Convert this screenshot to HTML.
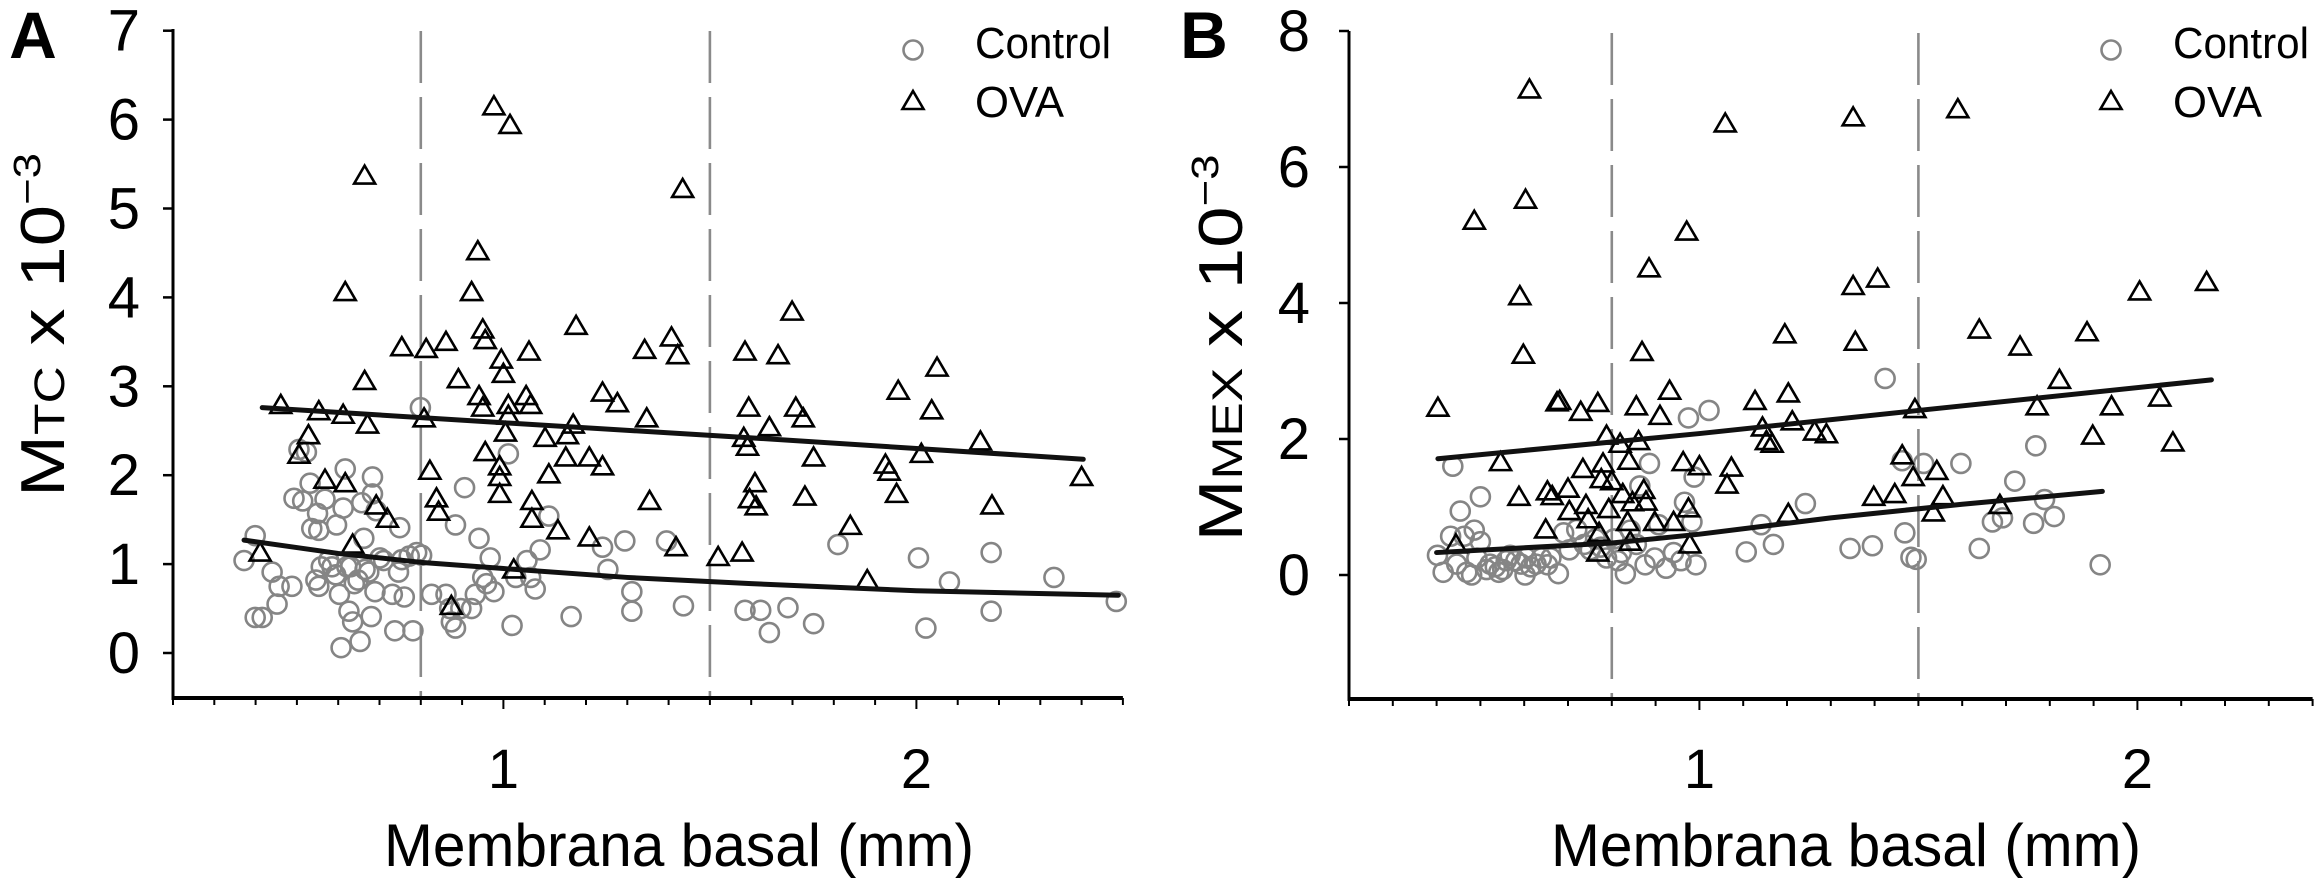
<!DOCTYPE html>
<html><head><meta charset="utf-8"><style>
html,body{margin:0;padding:0;background:#fff;}
svg{display:block;font-family:"Liberation Sans",Arial,sans-serif;}
</style></head><body>
<svg id="chart" width="2317" height="878" viewBox="0 0 2317 878" xmlns="http://www.w3.org/2000/svg">
<g id="pa"></g>
<g id="pb"></g>
</svg>
<script>
// ---------- Panel A data ----------
const aCtrlX=[0.372,0.399,0.399,0.416,0.44,0.457,0.452,0.488,0.493,0.505,0.514,0.523,0.532,0.536,0.546,0.553,0.559,0.55,0.553,0.568,0.577,0.585,0.594,0.596,0.603,0.607,0.612,0.617,0.621,0.626,0.63,0.635,0.639,0.648,0.653,0.657,0.662,0.665,0.674,0.68,0.683,0.683,0.689,0.692,0.701,0.71,0.731,0.737,0.746,0.749,0.754,0.76,0.772,0.781,0.79,0.802,0.799,0.826,0.861,0.87,0.874,0.884,0.884,0.897,0.906,0.923,0.932,0.941,0.95,0.959,0.968,0.977,1.012,1.021,1.03,1.057,1.066,1.077,1.089,1.11,1.164,1.24,1.253,1.294,1.311,1.311,1.395,1.436,1.585,1.623,1.644,1.689,1.751,1.81,2.005,2.023,2.08,2.181,2.181,2.333,2.484];
const aCtrlY=[1.04,1.32,0.4,0.4,0.91,0.75,0.55,0.75,1.74,2.29,1.71,2.26,1.91,1.4,0.82,0.75,0.97,1.57,1.38,1.73,1.04,0.97,0.88,1.44,0.66,0.06,1.63,2.07,0.97,0.47,0.97,0.35,0.78,0.82,0.13,1.69,1.29,0.94,0.91,0.41,1.98,1.79,0.69,1.6,1.07,1.04,0.66,0.25,0.91,1.41,1.05,0.63,1.09,0.25,1.13,1.1,2.76,0.66,0.66,0.5,0.35,0.28,1.44,0.5,1.86,0.5,0.66,1.29,0.85,0.78,1.07,0.69,2.24,0.31,0.85,1.04,0.85,0.72,1.16,1.54,0.41,1.19,0.94,1.26,0.69,0.47,1.26,0.53,0.48,0.48,0.23,0.51,0.33,1.22,1.07,0.28,0.8,1.13,0.47,0.85,0.58];
const aOvaX=[0.461,0.411,0.505,0.528,0.553,0.568,0.612,0.617,0.617,0.664,0.664,0.671,0.692,0.719,0.754,0.813,0.808,0.822,0.838,0.843,0.861,0.891,0.938,0.923,0.95,0.956,0.941,0.95,0.956,0.991,0.991,0.991,0.977,1.016,0.995,1.0,1.005,1.012,1.012,1.025,1.062,1.055,1.066,1.069,1.069,1.101,1.11,1.132,1.176,1.155,1.169,1.151,1.208,1.208,1.24,1.24,1.276,1.347,1.342,1.354,1.407,1.422,1.418,1.434,1.52,1.578,1.585,1.582,1.591,1.594,1.596,1.609,1.612,1.644,1.665,1.699,1.708,1.726,1.73,1.751,1.84,1.881,1.925,1.934,1.952,1.956,2.012,2.037,2.05,2.155,2.183,2.4,0.874,0.635];
const aOvaY=[2.79,1.13,2.23,2.45,2.72,1.95,2.68,1.91,4.06,5.37,3.06,2.57,1.66,1.51,3.44,3.42,2.64,2.05,1.74,1.59,3.5,3.08,4.52,4.06,3.64,3.52,2.89,2.76,2.26,2.1,1.98,1.79,6.15,5.94,3.3,3.14,2.48,2.79,2.67,0.94,3.39,2.89,2.79,1.71,1.51,2.42,2.01,1.38,3.68,2.45,2.57,2.2,2.2,1.3,2.1,2.93,2.81,2.64,3.41,1.71,3.55,3.35,1.19,5.22,1.08,1.13,3.39,2.42,2.32,2.76,1.73,1.91,1.65,2.54,3.35,3.84,2.76,2.64,1.76,2.2,1.43,0.82,2.12,2.04,1.79,2.95,2.24,2.73,3.21,2.38,1.66,1.98,0.53,1.22];
const aFitCtrlX=[0.372,0.6,0.8,1.0,1.3,1.6,2.0,2.489];
const aFitCtrlY=[1.27,1.12,1.02,0.95,0.85,0.78,0.70,0.65];
const aFitOvaX=[0.416,1.0,1.6,2.404];
const aFitOvaY=[2.76,2.59,2.42,2.18];
const aYTicks=[0,1,2,3,4,5,6,7];
const aXTicks=["1","2"];
// ---------- Panel B data ----------
const bCtrlX=[0.402,0.415,0.432,0.437,0.446,0.454,0.463,0.469,0.48,0.486,0.492,0.5,0.5,0.514,0.522,0.534,0.542,0.551,0.559,0.568,0.581,0.593,0.602,0.605,0.615,0.627,0.639,0.653,0.661,0.678,0.69,0.703,0.72,0.737,0.751,0.763,0.775,0.788,0.805,0.814,0.822,0.831,0.842,0.856,0.864,0.876,0.886,0.898,0.907,0.924,0.941,0.958,0.966,0.975,0.983,0.988,0.992,1.022,1.107,1.141,1.169,1.242,1.344,1.395,1.424,1.463,1.469,1.483,1.495,1.512,1.597,1.639,1.669,1.692,1.72,1.763,1.768,1.788,1.81,1.915];
const bCtrlY=[0.29,0.04,0.57,1.6,0.16,0.94,0.57,0.04,0.0,0.66,0.25,1.15,0.49,0.08,0.16,0.12,0.04,0.08,0.21,0.29,0.21,0.16,0.0,0.25,0.12,0.16,0.25,0.15,0.25,0.02,0.62,0.37,0.67,0.45,0.37,0.53,0.41,0.25,0.53,0.21,0.33,0.02,0.66,0.45,1.31,0.15,1.64,0.25,0.74,0.1,0.33,0.21,1.07,2.31,0.78,1.44,0.15,2.42,0.34,0.74,0.45,1.05,0.39,0.43,2.89,1.68,0.62,0.26,0.23,1.64,1.64,0.39,0.78,0.84,1.38,0.76,1.9,1.11,0.86,0.15];
const bOvaX=[0.403,0.444,0.486,0.546,0.588,0.59,0.598,0.603,0.612,0.649,0.653,0.664,0.675,0.681,0.7,0.703,0.729,0.734,0.741,0.746,0.768,0.768,0.771,0.776,0.78,0.788,0.793,0.8,0.819,0.825,0.836,0.839,0.842,0.847,0.856,0.861,0.869,0.873,0.878,0.885,0.898,0.91,0.932,0.941,0.963,0.971,0.975,0.978,1.0,1.059,1.063,1.073,1.127,1.144,1.153,1.166,1.195,1.203,1.203,1.212,1.263,1.29,1.351,1.351,1.356,1.398,1.407,1.446,1.463,1.488,1.492,1.534,1.542,1.556,1.59,1.639,1.686,1.732,1.771,1.822,1.885,1.898,1.941,2.005,2.051,2.081,2.158];
const bOvaY=[2.46,0.45,5.21,1.66,1.15,4.1,3.24,5.52,7.14,0.67,1.23,1.16,2.54,2.56,1.27,0.94,2.4,1.56,1.03,0.82,2.53,0.33,0.62,1.41,1.64,2.05,0.97,1.38,1.93,1.19,0.78,1.68,0.49,1.07,2.48,1.97,3.28,1.25,1.08,4.51,0.78,2.34,2.71,0.78,1.66,5.05,0.98,0.45,1.6,6.64,1.33,1.58,2.56,2.17,1.97,1.93,3.54,2.67,0.9,2.26,2.11,2.07,6.73,4.25,3.43,1.15,4.36,1.19,1.76,1.44,2.44,0.92,1.53,1.16,6.85,3.61,1.03,3.36,2.48,2.87,3.57,2.05,2.48,4.17,2.61,1.95,4.31];
const bFitCtrlX=[0.40,0.8,1.0,1.3,1.6,1.92];
const bFitCtrlY=[0.33,0.47,0.60,0.84,1.04,1.23];
const bFitOvaX=[0.403,1.0,1.5,2.169];
const bFitOvaY=[1.71,2.08,2.42,2.87];
const bYTicks=[0,2,4,6,8];
const bXTicks=["1","2"];

const NS="http://www.w3.org/2000/svg";
function mk(parent,tag,attrs,text){const e=document.createElementNS(NS,tag);for(const k in attrs)e.setAttribute(k,attrs[k]);if(text!==undefined)e.textContent=text;parent.appendChild(e);return e;}

function panel(g,cfg){
  const sx=v=>cfg.x0+(v-cfg.xmin)*cfg.xs;
  const sy=v=>cfg.y0-v*cfg.ys;
  [0.8,1.5].forEach((v,i)=>{
    const l=mk(g,'line',{x1:sx(v),x2:sx(v),y1:cfg.top+2,y2:cfg.axisY,stroke:'#8a8a8a','stroke-width':2.6,'stroke-dasharray':'52,14'});
    
    
  });
  const ya=mk(g,'line',{x1:cfg.x0,x2:cfg.x0,y1:cfg.top,y2:cfg.axisY+2,stroke:'#000','stroke-width':3});
  
  
  const xa=mk(g,'line',{x1:cfg.x0-1,x2:sx(cfg.xmax),y1:cfg.axisY,y2:cfg.axisY,stroke:'#000','stroke-width':4});
  
  
  for(let i=0;i<=Math.round((cfg.xmax-cfg.xmin)*10);i++){
    const v=cfg.xmin+i/10;const x=sx(v);const major=Math.abs(v-Math.round(v))<1e-6;
    const t=mk(g,'line',{x1:x,x2:x,y1:cfg.axisY,y2:cfg.axisY+(major?11:7),stroke:'#000','stroke-width':2});
    
    
  }
  cfg.xTicks.forEach(s=>{
    const t=mk(g,'text',{x:sx(+s),y:788,'font-size':56,'text-anchor':'middle'},s);
    
    
  });
  cfg.yTicks.forEach(v=>{
    const y=sy(v);
    const t=mk(g,'line',{x1:cfg.x0-10,x2:cfg.x0,y1:y,y2:y,stroke:'#000','stroke-width':2.5});
    
    
    const l=mk(g,'text',{x:cfg.labRight,y:y+20,'font-size':58,'text-anchor':'end'},String(v));
    
    
  });
  const tt=mk(g,'text',{x:cfg.titleX,y:866,'font-size':60,'text-anchor':'middle',textLength:590,lengthAdjust:'spacingAndGlyphs'},'Membrana basal (mm)');
  
  
  const yt=mk(g,'text',{transform:`translate(${cfg.ytX},${cfg.ytY}) rotate(-90) scale(1.2,1)`,'font-size':62,'text-anchor':'middle'});
  
  
  mk(yt,'tspan',{},'M');
  mk(yt,'tspan',{'font-size':43},cfg.sub);
  mk(yt,'tspan',{},' x 10');
  mk(yt,'tspan',{'font-size':38,dy:-24},'−3');
  const pl=mk(g,'text',{x:cfg.letterX,y:58,'font-size':66,'font-weight':'bold','text-anchor':'middle'},cfg.letter);
  
  
  const tri=(x,y)=>`M${x},${y-10} L${x+10.5},${y+8} L${x-10.5},${y+8} Z`;
  cfg.cx.forEach((v,i)=>{
    const c=mk(g,'circle',{cx:sx(v),cy:sy(cfg.cy[i]),r:9.5,fill:'none',stroke:'#858585','stroke-width':2.6});
    
    
  });
  cfg.ox.forEach((v,i)=>{
    const p=mk(g,'path',{d:tri(sx(v),sy(cfg.oy[i])),fill:'none',stroke:'#000','stroke-width':2.6,'stroke-linejoin':'miter'});
    
    
  });
  const line=(xs,ys,name)=>{
    const d=xs.map((v,i)=>(i?'L':'M')+sx(v)+','+sy(ys[i])).join(' ');
    const p=mk(g,'path',{d:d,fill:'none',stroke:'#111','stroke-width':5,'stroke-linecap':'round','stroke-linejoin':'round'});
    
    
  };
  line(cfg.fcx,cfg.fcy,'control-trend-line');
  line(cfg.fox,cfg.foy,'ova-trend-line');
  const lg=mk(g,'g',{});
  
  
  const c=mk(lg,'circle',{cx:cfg.legX,cy:50,r:9.5,fill:'none',stroke:'#858585','stroke-width':2.6});
  
  
  const t1=mk(lg,'text',{x:cfg.legX+62,y:58,'font-size':44,textLength:136,lengthAdjust:'spacingAndGlyphs'},'Control');
  
  
  const p=mk(lg,'path',{d:tri(cfg.legX,101),fill:'none',stroke:'#000','stroke-width':2.6});
  
  
  const t2=mk(lg,'text',{x:cfg.legX+62,y:117,'font-size':44,textLength:89,lengthAdjust:'spacingAndGlyphs'},'OVA');
  
  
}

panel(document.getElementById('pa'),{x0:173,xmin:0.2,xmax:2.5,xs:413,y0:653,ys:88.9,top:29,axisY:698,
  yTicks:aYTicks,xTicks:aXTicks,labRight:140,titleX:679,ytX:64,ytY:325,sub:'TC',letter:'A',letterX:33,
  cx:aCtrlX,cy:aCtrlY,ox:aOvaX,oy:aOvaY,fcx:aFitCtrlX,fcy:aFitCtrlY,fox:aFitOvaX,foy:aFitOvaY,legX:913});
panel(document.getElementById('pb'),{x0:1349,xmin:0.2,xmax:2.4,xs:438,y0:575,ys:68,top:31,axisY:699,
  yTicks:bYTicks,xTicks:bXTicks,labRight:1310,titleX:1846,ytX:1242,ytY:348,sub:'MEX',letter:'B',letterX:1204,
  cx:bCtrlX,cy:bCtrlY,ox:bOvaX,oy:bOvaY,fcx:bFitCtrlX,fcy:bFitCtrlY,fox:bFitOvaX,foy:bFitOvaY,legX:2111});
</script>
</body></html>
